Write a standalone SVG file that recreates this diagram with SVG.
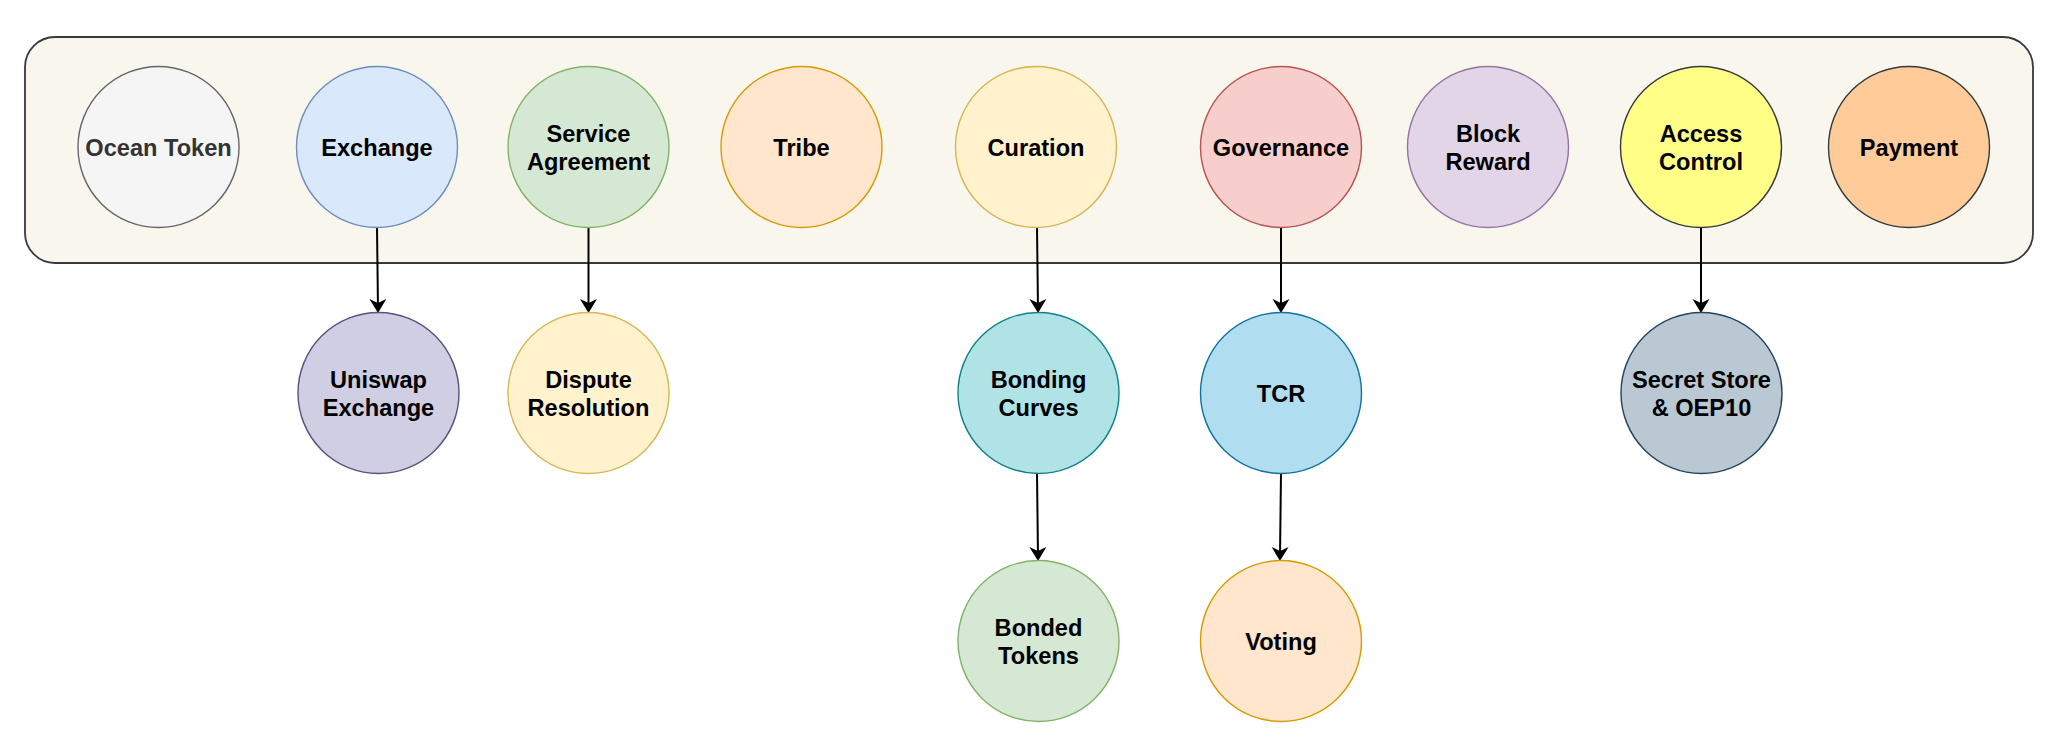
<svg xmlns="http://www.w3.org/2000/svg" width="2056" height="748" viewBox="0 0 2056 748">
  <style>
    .n { stroke-width: 1.4; }
    .t { font-family: "Liberation Sans", Arial, Helvetica, sans-serif; font-weight: bold; font-size: 23.6px; fill: #000000; text-anchor: middle; }
    .e { fill: none; stroke: #000000; stroke-width: 2; }
  </style>
  <defs>
    <marker id="arr" markerUnits="userSpaceOnUse" markerWidth="16" markerHeight="18" refX="10" refY="8.5" orient="auto">
      <path d="M0,0 L14,8.5 L0,17 L4,8.5 Z" fill="#000000"/>
    </marker>
  </defs>
  <rect width="2056" height="748" fill="#ffffff"/>
  <g id="container">
    <rect x="25" y="37" width="2008" height="226" rx="30" ry="30" fill="#f9f7ed" stroke="#36393d" stroke-width="1.8"/>
  </g>
  <g id="connectors">
    <line class="e" x1="377" y1="227" x2="378" y2="309" marker-end="url(#arr)"/>
    <line class="e" x1="588.5" y1="227" x2="588.5" y2="309" marker-end="url(#arr)"/>
    <line class="e" x1="1037" y1="227" x2="1038" y2="309" marker-end="url(#arr)"/>
    <line class="e" x1="1281" y1="227" x2="1281" y2="309" marker-end="url(#arr)"/>
    <line class="e" x1="1701" y1="227" x2="1701" y2="309" marker-end="url(#arr)"/>
    <line class="e" x1="1037" y1="473" x2="1038" y2="557" marker-end="url(#arr)"/>
    <line class="e" x1="1281" y1="473" x2="1280" y2="557" marker-end="url(#arr)"/>
  </g>
  <g id="ocean-token">
    <circle class="n" cx="158.5" cy="147" r="80.5" fill="#f5f5f5" stroke="#666666"/>
    <text class="t" x="158.5" y="155.5" style="fill:#333333">Ocean Token</text>
  </g>
  <g id="exchange">
    <circle class="n" cx="377" cy="147" r="80.5" fill="#dae8fc" stroke="#6c8ebf"/>
    <text class="t" x="377" y="155.5">Exchange</text>
  </g>
  <g id="service-agreement">
    <circle class="n" cx="588.5" cy="147" r="80.5" fill="#d5e8d4" stroke="#82b366"/>
    <text class="t" x="588.5" y="141.5">Service</text>
    <text class="t" x="588.5" y="170">Agreement</text>
  </g>
  <g id="tribe">
    <circle class="n" cx="801.5" cy="147" r="80.5" fill="#ffe6cc" stroke="#d79b00"/>
    <text class="t" x="801.5" y="155.5">Tribe</text>
  </g>
  <g id="curation">
    <circle class="n" cx="1036" cy="147" r="80.5" fill="#fff2cc" stroke="#d6b656"/>
    <text class="t" x="1036" y="155.5">Curation</text>
  </g>
  <g id="governance">
    <circle class="n" cx="1281" cy="147" r="80.5" fill="#f8cecc" stroke="#b85450"/>
    <text class="t" x="1281" y="155.5">Governance</text>
  </g>
  <g id="block-reward">
    <circle class="n" cx="1488" cy="147" r="80.5" fill="#e1d5e7" stroke="#9673a6"/>
    <text class="t" x="1488" y="141.5">Block</text>
    <text class="t" x="1488" y="170">Reward</text>
  </g>
  <g id="access-control">
    <circle class="n" cx="1701" cy="147" r="80.5" fill="#ffff88" stroke="#36393d"/>
    <text class="t" x="1701" y="141.5">Access</text>
    <text class="t" x="1701" y="170">Control</text>
  </g>
  <g id="payment">
    <circle class="n" cx="1909" cy="147" r="80.5" fill="#ffcc99" stroke="#36393d"/>
    <text class="t" x="1909" y="155.5">Payment</text>
  </g>
  <g id="uniswap-exchange">
    <circle class="n" cx="378.5" cy="393" r="80.5" fill="#d0cee2" stroke="#56517e"/>
    <text class="t" x="378.5" y="388">Uniswap</text>
    <text class="t" x="378.5" y="416">Exchange</text>
  </g>
  <g id="dispute-resolution">
    <circle class="n" cx="588.5" cy="393" r="80.5" fill="#fff2cc" stroke="#d6b656"/>
    <text class="t" x="588.5" y="388">Dispute</text>
    <text class="t" x="588.5" y="416">Resolution</text>
  </g>
  <g id="bonding-curves">
    <circle class="n" cx="1038.5" cy="393" r="80.5" fill="#b0e3e6" stroke="#0e8088"/>
    <text class="t" x="1038.5" y="388">Bonding</text>
    <text class="t" x="1038.5" y="416">Curves</text>
  </g>
  <g id="tcr">
    <circle class="n" cx="1281" cy="393" r="80.5" fill="#b1ddf0" stroke="#10739e"/>
    <text class="t" x="1281" y="401.5">TCR</text>
  </g>
  <g id="secret-store">
    <circle class="n" cx="1701.5" cy="393" r="80.5" fill="#bac8d3" stroke="#23445d"/>
    <text class="t" x="1701.5" y="388">Secret Store</text>
    <text class="t" x="1701.5" y="416">&amp; OEP10</text>
  </g>
  <g id="bonded-tokens">
    <circle class="n" cx="1038.5" cy="641" r="80.5" fill="#d5e8d4" stroke="#82b366"/>
    <text class="t" x="1038.5" y="636">Bonded</text>
    <text class="t" x="1038.5" y="664">Tokens</text>
  </g>
  <g id="voting">
    <circle class="n" cx="1281" cy="641" r="80.5" fill="#ffe6cc" stroke="#d79b00"/>
    <text class="t" x="1281" y="649.5">Voting</text>
  </g>
</svg>
